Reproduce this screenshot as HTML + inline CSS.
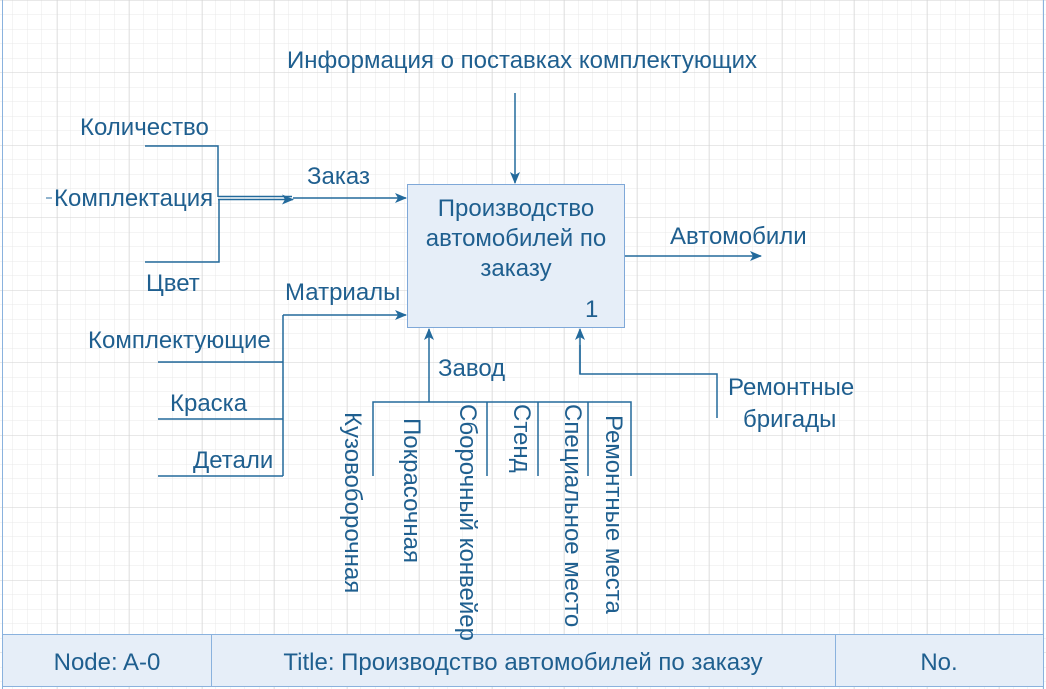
<!DOCTYPE html>
<html><head><meta charset="utf-8"><style>
html,body{margin:0;padding:0;background:#fff}
svg{display:block}
text{font-family:"Liberation Sans",sans-serif;fill:#1f5f8f;font-size:24px}
</style></head><body>
<svg width="1046" height="689" xmlns="http://www.w3.org/2000/svg">
<defs>
<pattern id="mi" x="-15.5" y="0" width="14.5" height="14.5" patternUnits="userSpaceOnUse">
<path d="M0 0H14.5M0 0V14.5" stroke="#e8e8e8" stroke-width="1" fill="none"/></pattern>
<pattern id="ma" x="-15.5" y="0" width="72.5" height="72.5" patternUnits="userSpaceOnUse">
<rect width="72.5" height="72.5" fill="url(#mi)"/>
<path d="M0 0H72.5M0 0V72.5" stroke="#d2d2d2" stroke-width="1" fill="none"/></pattern>
<marker id="ar" markerWidth="12" markerHeight="10" refX="11" refY="5" orient="auto" markerUnits="userSpaceOnUse">
<path d="M0 0L12 5L0 10L3 5Z" fill="#236a9c"/></marker>
</defs>
<rect width="1046" height="689" fill="url(#ma)"/>
<line x1="2.5" y1="0" x2="2.5" y2="689" stroke="#8ab2de"/>
<line x1="1043.5" y1="0" x2="1043.5" y2="689" stroke="#8ab2de"/>
<g stroke="#236a9c" stroke-width="1.5" fill="none">
<line x1="515" y1="93" x2="515" y2="183" marker-end="url(#ar)"/>
<path d="M145 146H218V197M145 262H219V199"/>
<line x1="218" y1="196.5" x2="292" y2="196.5"/>
<line x1="218" y1="199.5" x2="293" y2="199.5" marker-end="url(#ar)"/>
<line x1="293" y1="198" x2="406" y2="198" marker-end="url(#ar)"/>
<line x1="46" y1="198" x2="52" y2="198" stroke-width="1"/>
<path d="M283 476V315"/>
<line x1="283" y1="315" x2="406" y2="315" marker-end="url(#ar)"/>
<path d="M158 362H283M158 419H283M158 476H283"/>
<line x1="429" y1="402" x2="429" y2="329" marker-end="url(#ar)"/>
<path d="M373 476V402H631V476M487 402V476M538 402V476M588 402V476"/>
<path d="M717 418V374H580V345"/>
<line x1="580" y1="374" x2="580" y2="329" marker-end="url(#ar)"/>
<line x1="625" y1="256" x2="761" y2="256" marker-end="url(#ar)"/>
</g>
<rect x="407.5" y="184.5" width="217" height="143" fill="#e6eef8" stroke="#7fa8d8" stroke-width="1"/>
<text x="516" y="216" text-anchor="middle">Производство</text>
<text x="516" y="246" text-anchor="middle">автомобилей по</text>
<text x="516" y="276" text-anchor="middle">заказу</text>
<text x="585" y="317">1</text>
<text x="522" y="68" text-anchor="middle">Информация о поставках комплектующих</text>
<text x="80" y="135">Количество</text>
<text x="54" y="206">Комплектация</text>
<text x="146" y="291">Цвет</text>
<text x="307" y="184">Заказ</text>
<text x="285" y="300">Матриалы</text>
<text x="88" y="348">Комплектующие</text>
<text x="170" y="411">Краска</text>
<text x="193" y="468">Детали</text>
<text x="438" y="376">Завод</text>
<text x="670" y="244">Автомобили</text>
<text x="728" y="395">Ремонтные</text>
<text x="743" y="427">бригады</text>
<rect x="2.5" y="634.5" width="1041" height="52" fill="#e6eef8" stroke="#8ab2de"/>
<line x1="211.5" y1="634" x2="211.5" y2="687" stroke="#8ab2de"/>
<line x1="835.5" y1="634" x2="835.5" y2="687" stroke="#8ab2de"/>
<text x="107" y="670" text-anchor="middle">Node: A-0</text>
<text x="523" y="670" text-anchor="middle">Title: Производство автомобилей по заказу</text>
<text x="939" y="670" text-anchor="middle">No.</text>
<text transform="translate(345,412) rotate(90)">Кузовоборочная</text>
<text transform="translate(404,418) rotate(90)">Покрасочная</text>
<text transform="translate(460,404) rotate(90)">Сборочный конвейер</text>
<text transform="translate(514,404) rotate(90)">Стенд</text>
<text transform="translate(565,404) rotate(90)">Специальное место</text>
<text transform="translate(606,415) rotate(90)">Ремонтные места</text>
</svg>
</body></html>
